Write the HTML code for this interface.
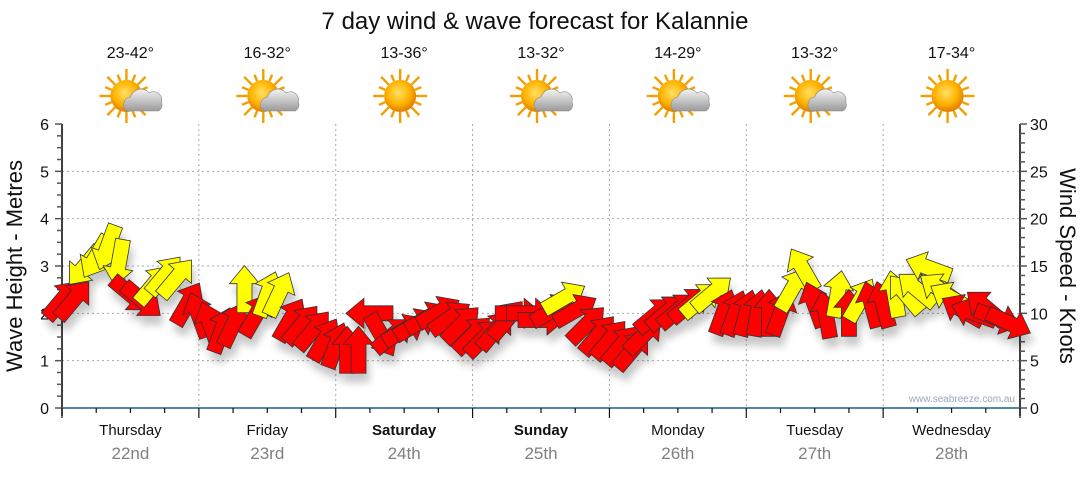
<!DOCTYPE html>
<html><head><meta charset="utf-8">
<style>
html,body{margin:0;padding:0;background:#fff;}
body{width:1080px;height:475px;overflow:hidden;font-family:"Liberation Sans",Arial,sans-serif;}
</style></head>
<body>
<svg id="chart" width="1080" height="475" viewBox="0 0 1080 475" xmlns="http://www.w3.org/2000/svg">
<defs>
<filter id="sh" x="-50%" y="-50%" width="200%" height="200%">
<feGaussianBlur in="SourceAlpha" stdDeviation="4"/>
<feOffset dx="3" dy="9" result="b"/>
<feComponentTransfer><feFuncA type="linear" slope="0.22"/></feComponentTransfer>
<feMerge><feMergeNode/><feMergeNode in="SourceGraphic"/></feMerge>
</filter>
<radialGradient id="sunG" cx="45%" cy="40%" r="60%"><stop offset="0" stop-color="#ffe066"/><stop offset="0.6" stop-color="#ffb300"/><stop offset="1" stop-color="#e07b00"/></radialGradient>
<linearGradient id="cloudG" x1="0" y1="0" x2="0" y2="1"><stop offset="0" stop-color="#f4f4f4"/><stop offset="1" stop-color="#9a9a9a"/></linearGradient>
</defs>
<text x="535" y="29" font-size="24" text-anchor="middle" fill="#111">7 day wind &amp; wave forecast for Kalannie</text>
<g id="header"></g>
<g id="grid"></g>
<g id="axes"></g>
<g id="arrows" filter="url(#sh)"></g>
<text x="1015" y="402" font-size="10" text-anchor="end" fill="#9aa8b8">www.seabreeze.com.au</text>
<text transform="translate(22,266) rotate(-90)" font-size="22" text-anchor="middle" fill="#111">Wave Height - Metres</text>
<text transform="translate(1060,266) rotate(90)" font-size="22" text-anchor="middle" fill="#111">Wind Speed - Knots</text>
</svg>
<script>
const days = ["Thursday","Friday","Saturday","Sunday","Monday","Tuesday","Wednesday"];
const dates = ["22nd","23rd","24th","25th","26th","27th","28th"];
const temps = ["23-42°","16-32°","13-36°","13-32°","14-29°","13-32°","17-34°"];
const cloudy = [1,1,0,1,1,1,0];
const leftTicks = [0,1,2,3,4,5,6];
const rightTicks = [0,5,10,15,20,25,30];
// wind every 2 hours, knots
const windSpeed = [
11.4,11.4,15,16,17,15.4,12,11.4,13,14,13.7,11,
9.8,8.8,8.2,8.8,12.5,9.8,12,12,9.3,8.8,8.2,7.2,
6.6,6.1,6.1,10,7.7,7.7,8.2,8.8,9.5,10.1,9.5,8.8,
7.7,7.4,8.2,9.3,10,10,9.3,10.3,11.6,10.3,8.8,7.7,
7.2,6.6,6.1,7.7,9.8,10.1,10.3,10.9,11.4,12.1,10.1,10,
10,10,10,10,12.5,14.6,10.9,9.8,12,10,11.4,10.9,
10.9,12,12,12.5,14.8,12.5,11.6,10.3,10,10.6,9.5,9];
// direction arrow points toward, degrees clockwise from up
const windDir = [
40,40,220,210,200,190,130,130,40,40,40,30,
-20,-20,20,25,0,30,20,25,30,40,40,30,
20,0,0,270,150,50,60,60,60,60,55,45,
45,45,40,40,90,90,90,60,60,60,45,40,
40,40,40,45,50,50,50,50,50,50,20,20,
15,10,0,20,30,-30,-20,-10,10,0,30,-15,
-15,-10,-40,-50,-70,-55,-60,-60,-70,-50,110,115];
// 1 = yellow (strong gusts), 0 = red
const windHot = [
0,0,1,1,1,1,0,0,1,1,1,0,
0,0,0,0,1,0,1,1,0,0,0,0,
0,0,0,0,0,0,0,0,0,0,0,0,
0,0,0,0,0,0,0,0,1,0,0,0,
0,0,0,0,0,0,0,0,1,1,0,0,
0,0,0,0,1,1,0,0,1,0,1,0,
0,1,1,1,1,1,1,0,0,0,0,0];

const NS="http://www.w3.org/2000/svg";
const X0=62, X1=1020, YB=408, YT=124;
const dayW=(X1-X0)/7;
const xH = h => X0 + h/24*dayW;
const yM = m => YB - m/6*(YB-YT);
const yK = k => YB - k/30*(YB-YT);
function mk(tag, attrs, parent){const e=document.createElementNS(NS,tag);for(const k in attrs)e.setAttribute(k,attrs[k]);parent.appendChild(e);return e;}

const grid=document.getElementById('grid'), axes=document.getElementById('axes'), header=document.getElementById('header');
leftTicks.forEach(m=>{ if(m>0&&m<6){const l=mk('line',{x1:X0,x2:X1,y1:yM(m),y2:yM(m),stroke:'#aaa','stroke-dasharray':'2,3'},grid);

}});
for(let d=1;d<7;d++){const l=mk('line',{x1:X0+d*dayW,x2:X0+d*dayW,y1:YT,y2:YB,stroke:'#aaa','stroke-dasharray':'2,3'},grid);

}

mk('line',{x1:X0,x2:X0,y1:YT,y2:YB+8,stroke:'#000','stroke-width':1.5},axes);
mk('line',{x1:X1,x2:X1,y1:YT,y2:YB+8,stroke:'#000','stroke-width':1.5},axes);
const bx=mk('line',{x1:X0,x2:X1,y1:YB,y2:YB,stroke:'#1d5f8a','stroke-width':1.5},axes);


for(let q=0;q<=24;q++){const m=q*0.25;mk('line',{x1:X0-(q%4?5:7),x2:X0,y1:yM(m),y2:yM(m),stroke:'#555','stroke-width':1.5},axes);}
leftTicks.forEach(m=>{const t=mk('text',{x:49,y:yM(m)+6,'font-size':16,'text-anchor':'end',fill:'#111'},axes);t.textContent=m;

});
for(let k=0;k<=30;k++){mk('line',{x1:X1,x2:X1+(k%5?5:7),y1:yK(k),y2:yK(k),stroke:'#555','stroke-width':1.5},axes);}
rightTicks.forEach(k=>{const t=mk('text',{x:1030,y:yK(k)+6,'font-size':16,fill:'#111'},axes);t.textContent=k;

});
for(let q=0;q<=28;q++){const x=X0+q*dayW/4;mk('line',{x1:x,x2:x,y1:YB,y2:YB+(q%4?5:10),stroke:'#111','stroke-width':1.2},axes);}

days.forEach((d,i)=>{
 const cx=X0+(i+0.5)*dayW;
 const wk=(i===2||i===3);
 const t=mk('text',{x:cx,y:435,'font-size':15,'text-anchor':'middle',fill:'#111','font-weight':wk?'bold':'normal'},axes);t.textContent=d;
 
 
 const t2=mk('text',{x:cx,y:459,'font-size':17,'text-anchor':'middle',fill:'#808080'},axes);t2.textContent=dates[i];
 
 
 const t3=mk('text',{x:cx,y:58,'font-size':16,'text-anchor':'middle',fill:'#111'},header);t3.textContent=temps[i];
 
 
 const g=mk('g',{transform:`translate(${cx-4},96)`},header);
 
 
 for(let r=0;r<16;r++){const a=r*22.5*Math.PI/180;mk('line',{x1:Math.cos(a)*16,y1:Math.sin(a)*16,x2:Math.cos(a)*(r%2?23:27),y2:Math.sin(a)*(r%2?23:27),stroke:'#f0a000','stroke-width':2.4},g);}
 mk('circle',{cx:0,cy:0,r:16,fill:'url(#sunG)'},g);
 if(cloudy[i]){mk('path',{d:'M0,15 a8,8 0 0 1 4,-14 a11,11 0 0 1 19,-4 a8,8 0 0 1 12,9 a7,7 0 0 1 -3,9 z',fill:'url(#cloudG)',stroke:'#888','stroke-width':0.6},g);}
});

const arrows=document.getElementById('arrows');
const linePts=windSpeed.map((k,i)=>xH(i*2)+','+yK(k)).join(' ');
mk('polyline',{points:linePts,fill:'none',stroke:'#999','stroke-width':1},arrows);
const shape='M0,-24 L15,-6 L7.5,-6 L7.5,23 L-7.5,23 L-7.5,-6 L-15,-6 Z';
windSpeed.forEach((k,i)=>{
 const p=mk('path',{d:shape,transform:`translate(${xH(i*2)},${yK(k)}) rotate(${windDir[i]})`,fill:windHot[i]?'#ffff00':'#ff0000',stroke:'#333','stroke-width':0.8,'stroke-linejoin':'miter'},arrows);
 
 
});
</script>
</body></html>
